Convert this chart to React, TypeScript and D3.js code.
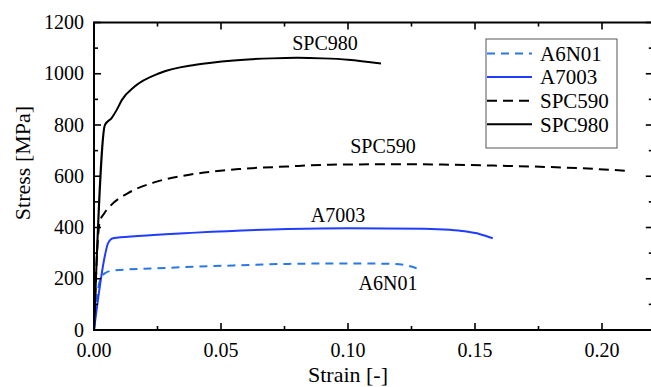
import * as d3 from "d3"

// strain [-], stress [MPa]
const a6n01: [number, number][] = [
  [0, 0], [0.0022, 189], [0.0042, 221], [0.0075, 232], [0.03, 243], [0.055, 252],
  [0.0764, 258], [0.1, 260], [0.118, 258], [0.123, 252], [0.127, 241],
]
const a7003: [number, number][] = [
  [0, 0], [0.0045, 300], [0.0055, 338], [0.0075, 358], [0.0173, 367], [0.04, 380],
  [0.0764, 394], [0.1, 397], [0.13, 395], [0.14, 391], [0.146, 385], [0.152, 374], [0.157, 358],
]
const spc590: [number, number][] = [
  [0, 0], [0.0015, 350], [0.0022, 420], [0.004, 455], [0.0062, 482], [0.0134, 534],
  [0.024, 577], [0.037, 605], [0.057, 628], [0.076, 638], [0.093, 645], [0.12, 647],
  [0.14, 645], [0.16, 641], [0.19, 632], [0.21, 621],
]
const spc980: [number, number][] = [
  [0, 0], [0.0043, 800], [0.007, 828], [0.009, 860], [0.011, 898], [0.016, 950],
  [0.026, 1003], [0.04, 1035], [0.055, 1052], [0.07, 1060], [0.08, 1062], [0.09, 1060],
  [0.1, 1055], [0.113, 1040],
]

const xTicks = [0, 0.05, 0.1, 0.15, 0.2]
const yTicks = [0, 200, 400, 600, 800, 1000, 1200]

const series = [
  { name: "A6N01", data: a6n01, color: "#2a78e4", dash: "8,6", label: [388, 290] },
  { name: "A7003", data: a7003, color: "#1f3cff", dash: "", label: [338, 222] },
  { name: "SPC590", data: spc590, color: "#000000", dash: "10,6", label: [383, 153] },
  { name: "SPC980", data: spc980, color: "#000000", dash: "", label: [325, 50] },
]

const font = "Liberation Serif, Tinos, Times New Roman, DejaVu Serif, serif"

export default function App() {
  const width = 651
  const height = 387
  const left = 94
  const top = 22.5
  const bottom = 330

  const x = d3.scaleLinear().domain([0, 0.22]).range([left, left + (0.22 / 0.05) * 127])
  const y = d3.scaleLinear().domain([0, 1200]).range([bottom, top])
  const right = x(0.22)

  const line = d3
    .line<[number, number]>()
    .x((d) => x(d[0]))
    .y((d) => y(d[1]))
    .curve(d3.curveMonotoneX)

  const xMinor = d3.range(0, 0.2251, 0.025)
  const yMinor = d3.range(0, 1201, 100)

  return (
    <svg
      width={width}
      height={height}
      style={{ position: "absolute", left: 0, top: 0, background: "#fff", fontFamily: font }}
    >
      <defs>
        <clipPath id="plot">
          <rect x={left} y={top} width={right - left} height={bottom - top} />
        </clipPath>
      </defs>

      {series.map((s) => (
        <path
          key={s.name}
          d={line(s.data) || ""}
          fill="none"
          stroke={s.color}
          strokeWidth={2}
          strokeDasharray={s.dash || undefined}
          clipPath="url(#plot)"
        />
      ))}

      {/* ticks, inward on all sides */}
      {xMinor.map((t, i) => {
        const len = i % 2 === 0 ? 7 : 4
        return (
          <g key={"xt" + i} stroke="#000" strokeWidth={1.6}>
            <line x1={x(t)} x2={x(t)} y1={bottom} y2={bottom - len} />
            <line x1={x(t)} x2={x(t)} y1={top} y2={top + len} />
          </g>
        )
      })}
      {yMinor.map((t, i) => {
        const len = i % 2 === 0 ? 7 : 4
        return (
          <g key={"yt" + i} stroke="#000" strokeWidth={1.6}>
            <line x1={left} x2={left + len} y1={y(t)} y2={y(t)} />
            <line x1={right} x2={right - len} y1={y(t)} y2={y(t)} />
          </g>
        )
      })}

      <rect x={left} y={top} width={right - left} height={bottom - top} fill="none" stroke="#000" strokeWidth={2} />

      {xTicks.map((t) => (
        <text key={"xl" + t} x={x(t)} y={357} textAnchor="middle" fontSize={20}>
          {t.toFixed(2)}
        </text>
      ))}
      {yTicks.map((t) => (
        <text key={"yl" + t} x={84} y={y(t)} dy="0.33em" textAnchor="end" fontSize={20}>
          {t}
        </text>
      ))}

      <text x={348} y={382} textAnchor="middle" fontSize={22}>
        Strain [-]
      </text>
      <text transform={`translate(30, 163) rotate(-90)`} textAnchor="middle" fontSize={22}>
        Stress [MPa]
      </text>

      {series.map((s) => (
        <text key={"lab" + s.name} x={s.label[0]} y={s.label[1]} textAnchor="middle" fontSize={20}>
          {s.name}
        </text>
      ))}

      {/* legend */}
      <rect x={486} y={39} width={131} height={109} fill="#fff" stroke="#555" strokeWidth={1} />
      {series.map((s, i) => {
        const ly = 53.5 + i * 23.6
        return (
          <g key={"lg" + s.name}>
            <line x1={487} x2={532} y1={ly} y2={ly} stroke={s.color} strokeWidth={2} strokeDasharray={s.dash || undefined} />
            <text x={540} y={ly} dy="0.35em" fontSize={21}>
              {s.name}
            </text>
          </g>
        )
      })}
    </svg>
  )
}
